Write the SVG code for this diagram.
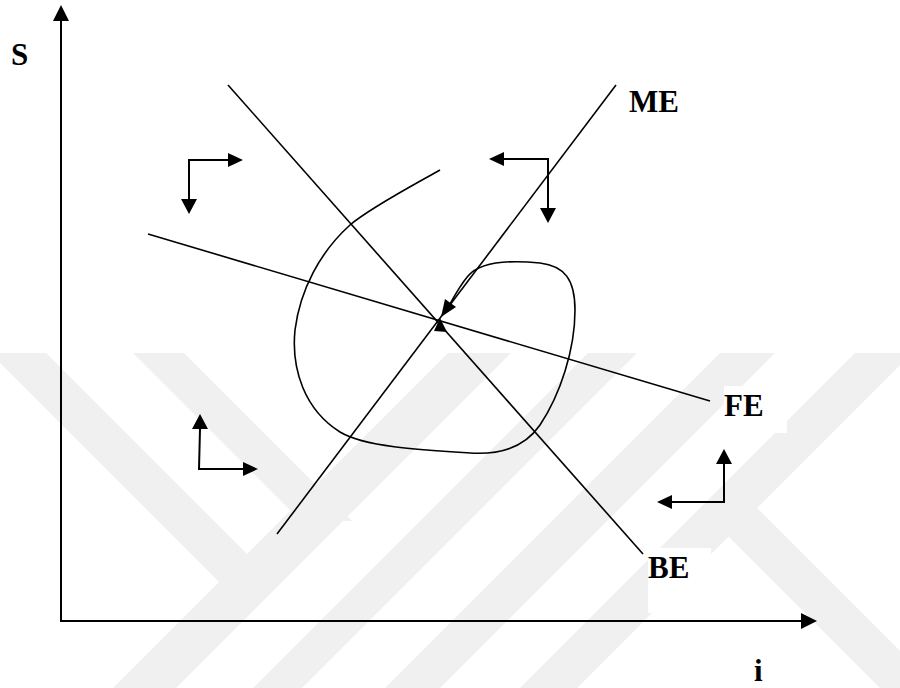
<svg xmlns="http://www.w3.org/2000/svg" width="900" height="688" viewBox="0 0 900 688">
<defs>
<style>
.ax{stroke:#000;stroke-width:2;fill:none}
.ln{stroke:#000;stroke-width:1.6;fill:none}
.ar{stroke:#000;stroke-width:2;fill:none}
.hd{fill:#000;stroke:none}
.lb{font-family:"Liberation Serif","Times New Roman",serif;font-weight:bold;font-size:31px;fill:#000}
.wm{fill:#f0f0f0;stroke:none}
.bx{fill:#fff;stroke:none}
</style>
</defs>
<rect width="900" height="688" fill="#fff"/>
<g id="watermark">
<polygon class="wm" points="-10,353 46,353 276,583 220,583"/>
<polygon class="wm" points="133,353 184,353 352,521 301,521"/>
<polygon class="wm" points="448,353 511,353 165,699 102,699"/>
<polygon class="wm" points="588,353 637,353 289,701 240,701"/>
<polygon class="wm" points="720,353 775,353 423,705 368,705"/>
<polygon class="wm" points="855,353 912,353 560,705 503,705"/>
<polygon class="wm" points="752,503 930,681 930,738 727,535"/>
</g>
<g id="axes">
<line class="ax" x1="61" y1="621" x2="61" y2="18"/>
<polygon class="hd" points="61,5 53,21 69,21"/>
<line class="ax" x1="60" y1="621" x2="803" y2="621"/>
<polygon class="hd" points="817,621 801,613 801,629"/>
</g>
<g id="connectors">
<line class="ln" x1="228" y1="85" x2="643" y2="554"/>
<line class="ln" x1="616" y1="85" x2="277" y2="534"/>
<line class="ln" x1="148" y1="234" x2="710" y2="401"/>
<path class="ln" d="M440,170 C410,187 370,208 350,225 C320,252 300,290 295,330 C291,370 305,410 340,432 C365,447 420,450 470,453 C500,455 525,447 540,425 C560,395 575,350 575,310 C575,280 565,266 540,263 C510,260 480,262 468,276 C462,283 456,293 450,304"/>
<polygon class="hd" points="441,317 445,299 456,307"/>
<polygon class="hd" points="440,318 434,331 447,332"/>
</g>
<g id="arrows-tl">
<polyline class="ar" points="228,160 189,160 189,200"/>
<polygon class="hd" points="243,160 228,153 228,167"/>
<polygon class="hd" points="189,214 181,199 197,199"/>
</g>
<g id="arrows-tr">
<polyline class="ar" points="504,159 548,159 548,208"/>
<polygon class="hd" points="489,159 504,152 504,166"/>
<polygon class="hd" points="548,223 540,208 556,208"/>
</g>
<g id="arrows-bl">
<polyline class="ar" points="200,429 199,469 243,469"/>
<polygon class="hd" points="200,414 192,429 208,429"/>
<polygon class="hd" points="258,469 243,462 243,476"/>
</g>
<g id="arrows-br">
<polyline class="ar" points="724,464 724,502 672,502"/>
<polygon class="hd" points="724,449 716,464 732,464"/>
<polygon class="hd" points="657,502 672,495 672,509"/>
</g>
<g id="label-S"><text class="lb" x="11" y="65">S</text></g>
<g id="label-ME"><text class="lb" x="629" y="112">ME</text></g>
<g id="label-FE"><rect class="bx" x="724" y="386" width="63" height="47"/><text class="lb" x="724" y="416">FE</text></g>
<g id="label-BE"><rect class="bx" x="648" y="548" width="63" height="65"/><text class="lb" x="648" y="578">BE</text></g>
<g id="label-i"><rect class="bx" x="753" y="652" width="40" height="36"/><text class="lb" x="754" y="681">i</text></g>
</svg>
